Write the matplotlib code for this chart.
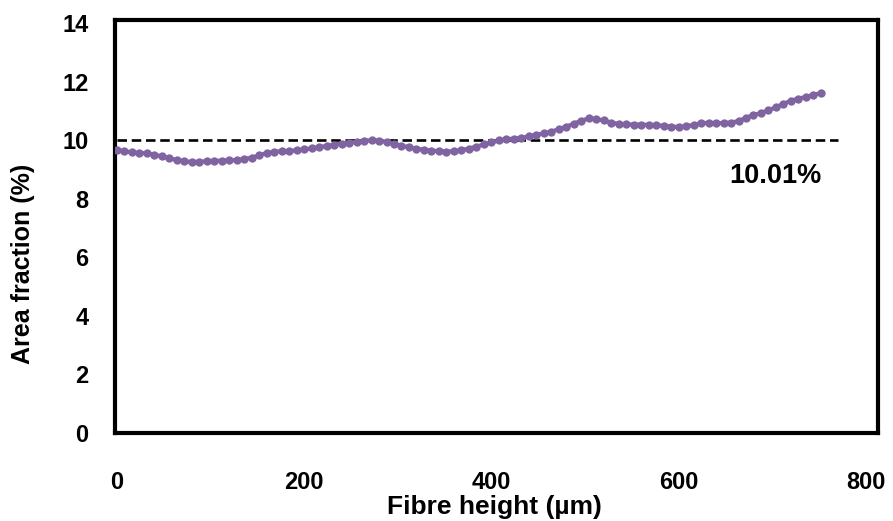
import matplotlib
matplotlib.use("Agg")
import matplotlib.pyplot as plt

plt.rcParams['font.family'] = ['Liberation Sans', 'DejaVu Sans']
plt.rcParams['font.weight'] = 'bold'

height_um = [0, 8, 16, 24, 32, 40, 48, 56, 64, 72, 80, 88, 96, 104, 112, 120, 128, 136, 144, 152,
             160, 168, 176, 184, 192, 200, 208, 216, 224, 232, 240, 248, 256, 264, 272, 280, 288, 296,
             304, 312, 320, 328, 336, 344, 352, 360, 368, 376, 384, 392, 400, 408, 416, 424, 432, 440,
             448, 456, 464, 472, 480, 488, 496, 504, 512, 520, 528, 536, 544, 552, 560, 568, 576, 584,
             592, 600, 608, 616, 624, 632, 640, 648, 656, 664, 672, 680, 688, 696, 704, 712, 720, 728,
             736, 744, 752]
area_fraction = [9.66, 9.62, 9.58, 9.56, 9.55, 9.50, 9.45, 9.38, 9.32, 9.28, 9.25, 9.26, 9.28, 9.29,
                 9.30, 9.31, 9.32, 9.35, 9.40, 9.48, 9.56, 9.60, 9.62, 9.63, 9.65, 9.68, 9.72, 9.76,
                 9.80, 9.84, 9.88, 9.91, 9.94, 9.97, 10.00, 9.98, 9.94, 9.88, 9.81, 9.76, 9.71, 9.67,
                 9.64, 9.62, 9.61, 9.62, 9.66, 9.71, 9.78, 9.85, 9.92, 9.99, 10.03, 10.05, 10.08, 10.13,
                 10.18, 10.23, 10.29, 10.37, 10.46, 10.56, 10.66, 10.74, 10.72, 10.67, 10.60, 10.55,
                 10.54, 10.53, 10.53, 10.52, 10.51, 10.49, 10.46, 10.45, 10.47, 10.52, 10.58, 10.59,
                 10.58, 10.58, 10.60, 10.65, 10.76, 10.86, 10.92, 11.02, 11.12, 11.24, 11.34, 11.42,
                 11.47, 11.55, 11.60]
mean_value = 10.01
mean_label = "10.01%"
mean_x_range = [0, 770]
x_ticks = [0, 200, 400, 600, 800]
y_ticks = [0, 2, 4, 6, 8, 10, 12, 14]

fig = plt.figure(figsize=(8.93, 5.21), dpi=100)
ax = fig.add_axes([0.1288, 0.1689, 0.8544, 0.7927])

ax.plot(mean_x_range, [mean_value, mean_value], color='black', lw=1.9,
        linestyle=(0, (3.6, 1.8)), zorder=2)
ax.plot(height_um, area_fraction, color='#8064A2', lw=3, marker='o', markersize=6,
        markeredgewidth=0, zorder=3)

ax.text(703, 8.77, mean_label, ha='center', va='center', fontsize=19.5,
        fontweight='bold')

ax.set_xlim(-2, 813)
ax.set_ylim(0, 14.1)
ax.set_xticks(x_ticks)
ax.set_yticks(y_ticks)
ax.tick_params(axis='both', length=0, labelsize=17)
ax.tick_params(axis='x', pad=27)
ax.tick_params(axis='y', pad=19)
for lab in ax.get_xticklabels() + ax.get_yticklabels():
    lab.set_fontweight('bold')
for s in ax.spines.values():
    s.set_linewidth(3)
    s.set_color('black')

ax.set_xlabel('Fibre height (µm)', fontsize=19, fontweight='bold')
ax.set_ylabel('Area fraction (%)', fontsize=18, fontweight='bold')
ax.xaxis.label.set_va('center')
ax.yaxis.label.set_va('center')
ax.xaxis.set_label_coords(0.497, -0.179)
ax.yaxis.set_label_coords(-0.120, 0.41)

fig.savefig('out.png', dpi=100)
